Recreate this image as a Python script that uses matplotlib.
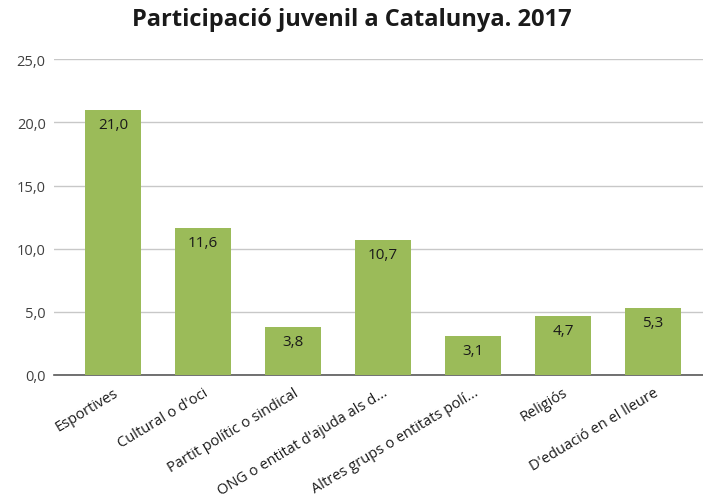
import numpy as np
import matplotlib.pyplot as plt

# Dades
categories = ["Esportives", "Cultural o d'oci", "Partit polític o sindical",
              "ONG o entitat d'ajuda als d...", "Altres grups o entitats polí...",
              "Religiós", "D'eduació en el lleure"]
values = [21.0, 11.6, 3.8, 10.7, 3.1, 4.7, 5.3]
yticks = [0, 5, 10, 15, 20, 25]

plt.rcParams['font.family'] = ['Open Sans', 'DejaVu Sans']

fig = plt.figure(figsize=(7.03, 5.02), dpi=100)
ax = fig.add_axes([0.0768, 0.251, 0.9232, 0.629])

x = np.arange(len(categories))
bars = ax.bar(x, values, width=0.63, color='#9BBB59', zorder=3)

for xi, v in zip(x, values):
    ax.text(xi, v - 0.55, f"{v:.1f}".replace('.', ','), ha='center', va='top',
            fontsize=11, color='#1a1a1a', zorder=4)

ax.set_ylim(0, 25)
ax.set_xlim(-0.656, 6.556)
ax.set_yticks(yticks)
ax.set_yticklabels([f"{t:.1f}".replace('.', ',') for t in yticks], fontsize=10.5, color='#404040')
ax.set_xticks(x)
ax.set_xticklabels(categories, rotation=31, ha='right', rotation_mode='anchor',
                   fontsize=10.5, color='#1a1a1a')
ax.tick_params(axis='both', length=0, pad=6)
ax.tick_params(axis='x', pad=7)

ax.grid(axis='y', color='#c8c8c8', linewidth=1, zorder=0)
for s in ['top', 'right', 'left']:
    ax.spines[s].set_visible(False)
ax.spines['bottom'].set_color('#595959')
ax.spines['bottom'].set_linewidth(1.2)

fig.text(0.5, 0.96, "Participació juvenil a Catalunya. 2017", ha='center', va='center',
         fontsize=17, fontweight='bold', color='#1a1a1a')

fig.savefig('out.png', dpi=100)
